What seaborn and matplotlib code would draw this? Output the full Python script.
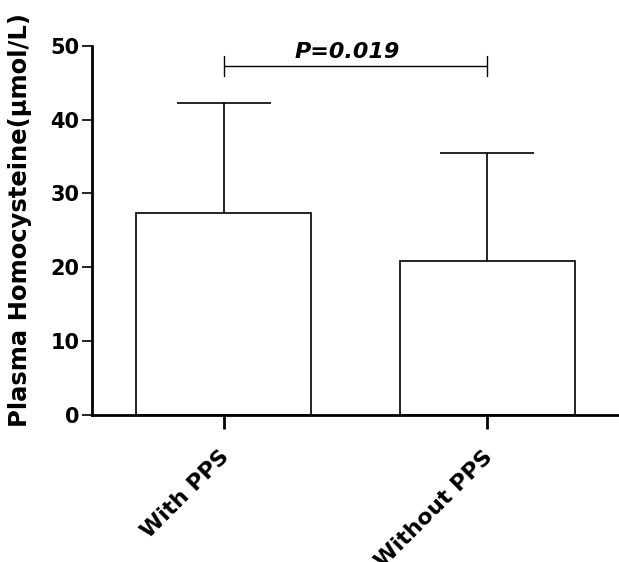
import pandas as pd
import matplotlib
matplotlib.use("Agg")
import matplotlib.pyplot as plt
import matplotlib.transforms as mtransforms
import seaborn as sns

# Data
groups = ["With PPS", "Without PPS"]
means = [27.3, 20.9]
sds = [15.0, 14.6]
p_text = "P=0.019"

df = pd.DataFrame({"group": groups, "hcy": means, "sd": sds})

sns.set_style("ticks")
plt.rcParams['font.family'] = ['DejaVu Sans']
plt.rcParams['font.weight'] = 'bold'
plt.rcParams['text.color'] = 'black'
plt.rcParams['axes.labelcolor'] = 'black'
plt.rcParams['xtick.color'] = 'black'
plt.rcParams['ytick.color'] = 'black'
plt.rcParams['axes.edgecolor'] = 'black'

fig = plt.figure(figsize=(6.19, 5.62), dpi=100)
ax = fig.add_axes([0.1486, 0.2616, 0.8514, 0.6571])

sns.barplot(data=df, x="group", y="hcy", color="white", edgecolor="black",
            linewidth=1.2, width=0.665, errorbar=None, ax=ax)

# upper-only SD error bars, no cap at the bar top
xs = list(range(len(groups)))
_, caps, _ = ax.errorbar(xs, df["hcy"], yerr=[[0] * len(groups), df["sd"]], fmt="none",
                         ecolor="black", elinewidth=1.2, capsize=34, capthick=1.2)
caps[0].set_visible(False)

# significance bracket
yb = 47.3
ax.plot([0, 1], [yb, yb], color="black", lw=1.0, clip_on=False)
ax.plot([0, 0], [yb - 1.35, yb + 1.35], color="black", lw=1.0, clip_on=False)
ax.plot([1, 1], [yb - 1.35, yb + 1.35], color="black", lw=1.0, clip_on=False)
ax.text(0.47, 48.3, p_text, ha="center", va="baseline", fontsize=16,
        fontweight="bold", fontstyle="italic", clip_on=False)

ax.set_xlim(-0.5, 1.5)
ax.set_ylim(0, 50)
ax.set_yticks([0, 10, 20, 30, 40, 50])
ax.set_xlabel("")
ax.set_ylabel("Plasma Homocysteine(μmol/L)", fontsize=17.5, fontweight="bold")
ax.yaxis.set_label_coords(-0.114, 0.528)

for s in ["top", "right"]:
    ax.spines[s].set_visible(False)
for s in ["left", "bottom"]:
    ax.spines[s].set_linewidth(2.0)

ax.tick_params(axis="y", direction="out", length=7, width=1.2, labelsize=15, pad=2)
ax.tick_params(axis="x", direction="out", length=10, width=2, labelsize=16, pad=13)
shift = mtransforms.ScaledTranslation(-5 / 100, 0, fig.dpi_scale_trans)
for lab in ax.get_xticklabels():
    lab.set_rotation(45)
    lab.set_ha("right")
    lab.set_va("top")
    lab.set_rotation_mode("anchor")
    lab.set_fontweight("bold")
    lab.set_transform(lab.get_transform() + shift)
for lab in ax.get_yticklabels():
    lab.set_fontweight("bold")

fig.savefig("out.png", dpi=100)
